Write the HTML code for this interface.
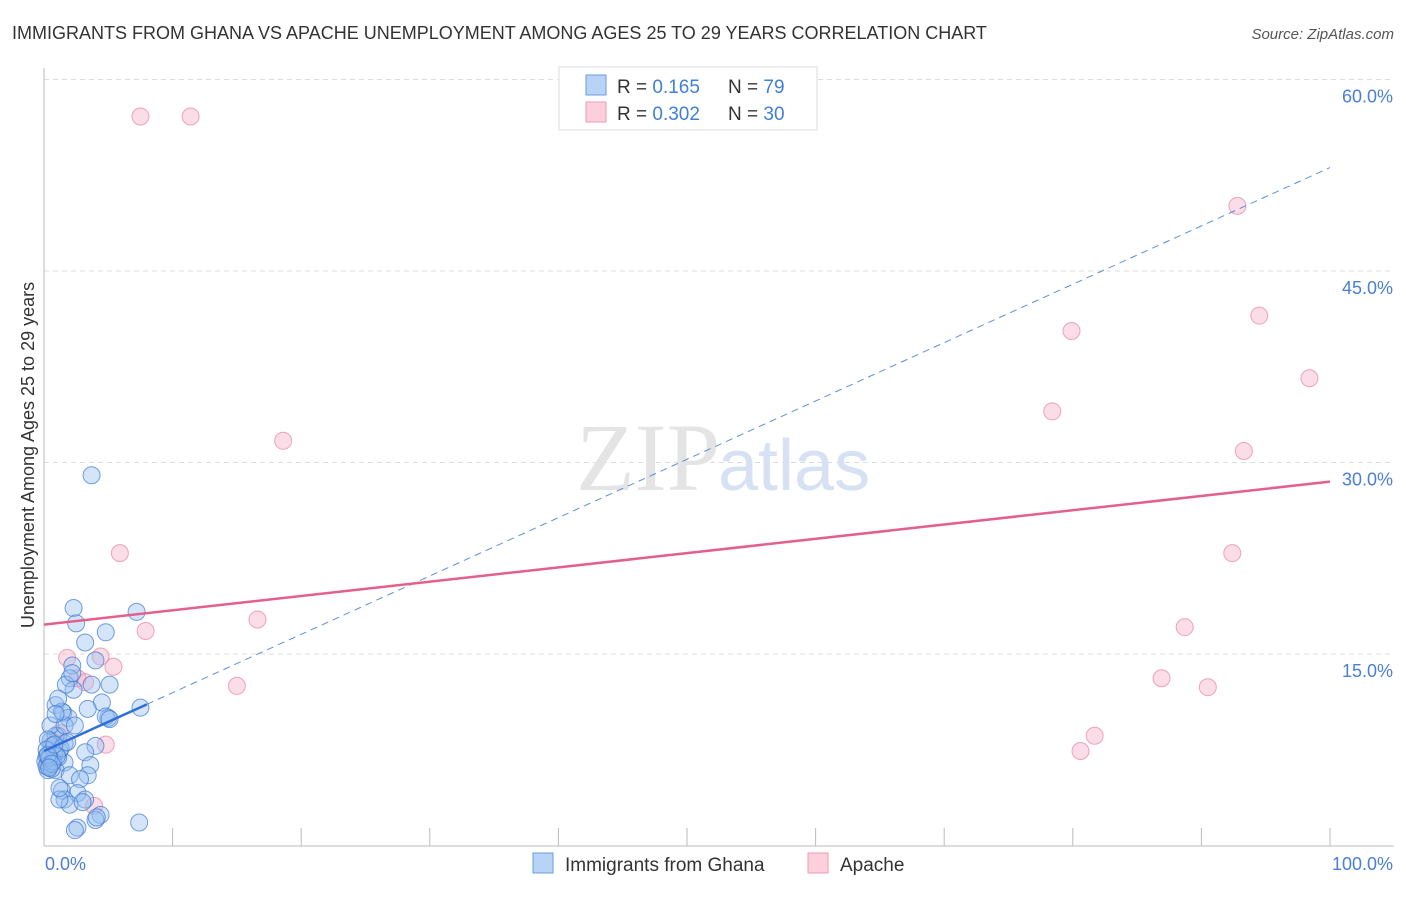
<!DOCTYPE html>
<html><head><meta charset="utf-8"><style>
body{margin:0;background:#fff;font-family:"Liberation Sans",sans-serif;}
</style></head><body>
<svg width="1406" height="892" xmlns="http://www.w3.org/2000/svg">
<text x="12" y="39" font-size="18" fill="#333">IMMIGRANTS FROM GHANA VS APACHE UNEMPLOYMENT AMONG AGES 25 TO 29 YEARS CORRELATION CHART</text>
<text x="1394" y="39" font-size="15" fill="#555" font-style="italic" text-anchor="end">Source: ZipAtlas.com</text>
<g id="grid"></g>
<line x1="44" y1="68" x2="44" y2="846" stroke="#bbb"/>
<line x1="44" y1="846" x2="1394" y2="846" stroke="#bbb"/>
<text x="720" y="490" font-size="96" fill="#e4e4e4" text-anchor="end" font-family="Liberation Serif,serif">ZIP</text>
<text x="718" y="490" font-size="72" fill="#d6e2f3">atlas</text>
<g id="pts"></g>
<g id="lines"></g>
<text x="34" y="455" font-size="18" fill="#333" text-anchor="middle" transform="rotate(-90 34 455)">Unemployment Among Ages 25 to 29 years</text>
<text x="45" y="870" font-size="18" fill="#4a7fd4">0.0%</text>
<text x="1393" y="870" font-size="18" fill="#4a7fd4" text-anchor="end">100.0%</text>
<g>
<rect x="559" y="67" width="258" height="63" fill="#fff" stroke="#ddd"/>
<rect x="586" y="75" width="20" height="20" fill="#b8d3f5" stroke="#6a9ee0"/>
<rect x="586" y="102" width="20" height="20" fill="#fbd0dc" stroke="#ec9ab2"/>
<text x="617" y="93" font-size="19" fill="#333">R = <tspan fill="#3f7fd9">0.165</tspan></text>
<text x="728" y="93" font-size="19" fill="#333">N = <tspan fill="#3f7fd9">79</tspan></text>
<text x="617" y="120" font-size="19" fill="#333">R = <tspan fill="#3f7fd9">0.302</tspan></text>
<text x="728" y="120" font-size="19" fill="#333">N = <tspan fill="#3f7fd9">30</tspan></text>
</g>
<g>
<rect x="533" y="853" width="20" height="20" fill="#b8d3f5" stroke="#6a9ee0"/>
<text x="565" y="871" font-size="19" fill="#333">Immigrants from Ghana</text>
<rect x="808" y="853" width="20" height="20" fill="#fbd0dc" stroke="#ec9ab2"/>
<text x="840" y="871" font-size="19" fill="#333">Apache</text>
</g>
</svg>
<script>
const yTicks=[15,30,45,60];
const yTickLabels=["15.0%","30.0%","45.0%","60.0%"];
const ghanaX=[3.7,2.3,7.2,2.5,4.8,3.2,4.0,2.2,2.0,5.1,2.3,3.7,0.9,4.5,3.4,7.5,1.5,1.9,5.0,4.8,1.1,1.6,4.0,3.2,1.2,0.5,0.6,3.6,1.6,0.3,0.9,2.0,3.4,2.8,1.4,2.6,1.6,3.2,2.0,1.2,4.4,4.0,4.1,2.6,2.4,7.4,0.5,0.9,0.2,0.6,0.3,0.1,1.1,0.5,1.6,2.4,1.4,1.7,1.1,0.4,0.8,0.2,0.6,1.3,0.3,0.7,1.0,0.2,0.4,2.2,5.1,0.9,1.8,0.3,0.6,1.2,3.0,0.4,0.8];
const ghanaY=[29.0,18.6,18.3,17.4,16.7,15.9,14.5,14.1,13.1,12.6,12.2,12.6,11.0,11.2,10.7,10.8,10.4,10.0,10.0,10.1,8.6,8.0,7.8,7.3,7.4,7.3,6.5,6.3,6.5,6.3,5.9,5.5,5.5,5.2,4.3,4.1,3.6,3.6,3.2,3.6,2.4,2.0,2.2,1.4,1.2,1.8,8.2,8.6,7.0,7.8,5.9,6.6,6.9,9.4,9.4,9.4,10.5,12.6,11.5,6.8,7.2,6.2,6.0,7.6,8.3,6.6,7.0,7.5,6.9,13.5,9.9,10.3,8.1,7.1,6.4,4.5,3.4,6.1,7.9];
const apacheX=[7.5,11.4,18.6,5.9,7.9,16.6,15.0,1.8,4.4,2.6,5.4,4.8,3.9,92.8,79.9,94.5,78.4,98.4,93.3,92.4,88.7,86.9,90.5,81.7,80.6,0.9,0.5,0.3,1.2,3.2];
const apacheY=[57.1,57.1,31.7,22.9,16.8,17.7,12.5,14.7,14.8,13.1,14.0,7.9,3.1,50.1,40.3,41.5,34.0,36.6,30.9,22.9,17.1,13.1,12.4,8.6,7.4,8.0,6.3,6.7,8.8,12.8];
const ghanaTrend=[7.4,53.1];
const apacheTrend=[17.3,28.5];
const NS="http://www.w3.org/2000/svg";
const X0=44,X1=1330,Y0=845.5,PXPER=12.767;
function sx(v){return X0+(X1-X0)*v/100;}
function sy(v){return Y0-v*PXPER;}
function mk(t,a,p){const e=document.createElementNS(NS,t);for(const k in a)e.setAttribute(k,a[k]);p.appendChild(e);return e;}
const grid=document.getElementById('grid');
yTicks.forEach((t,i)=>{
 const l=mk('line',{x1:44,x2:1394,y1:sy(t),y2:sy(t),stroke:'#ddd','stroke-dasharray':'5,4'},grid);
 
 
 const tx=mk('text',{x:1393,y:sy(t)+23,'font-size':18,fill:'#4a7fd4','text-anchor':'end'},grid);
 tx.textContent=yTickLabels[i];
 
 
});
for(let k=1;k<=10;k++){
 const l=mk('line',{x1:sx(k*10),x2:sx(k*10),y1:828,y2:846,stroke:'#bbb'},grid);
 
 
}
const pts=document.getElementById('pts');
apacheX.forEach((x,i)=>{
 const c=mk('circle',{cx:sx(x),cy:sy(apacheY[i]),r:8.5,fill:'rgba(246,170,195,0.4)',stroke:'rgba(232,130,160,0.7)','stroke-width':1},pts);
 
 
});
ghanaX.forEach((x,i)=>{
 const c=mk('circle',{cx:sx(x),cy:sy(ghanaY[i]),r:8.5,fill:'rgba(150,190,240,0.4)',stroke:'rgba(60,120,210,0.7)','stroke-width':1},pts);
 
 
});
const lines=document.getElementById('lines');
const gx=8;
const gyAt=v=>ghanaTrend[0]+(ghanaTrend[1]-ghanaTrend[0])*v/100;
let l1=mk('line',{x1:sx(0),y1:sy(gyAt(0)),x2:sx(gx),y2:sy(gyAt(gx)),stroke:'#2f6fd6','stroke-width':2.5},lines);


let l2=mk('line',{x1:sx(gx),y1:sy(gyAt(gx)),x2:sx(100),y2:sy(gyAt(100)),stroke:'#5b8fdc','stroke-width':1,'stroke-dasharray':'7,5'},lines);


let l3=mk('line',{x1:sx(0),y1:sy(apacheTrend[0]),x2:sx(100),y2:sy(apacheTrend[1]),stroke:'#e4608a','stroke-width':2.5},lines);


</script>
</body></html>
